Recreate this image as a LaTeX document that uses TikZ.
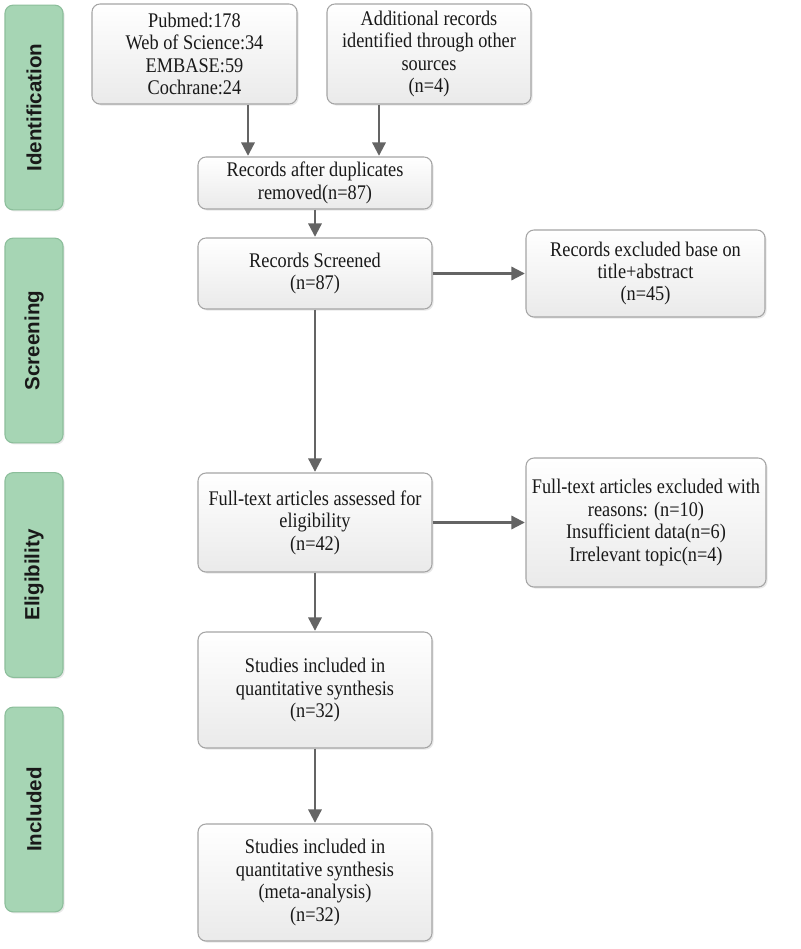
\documentclass[tikz,border=0pt]{standalone}
\usepackage{fontspec}
\setmainfont{Liberation Serif}[FakeStretch=0.88]
\newfontfamily\labelfont{Liberation Sans}
\usetikzlibrary{arrows.meta,shadows,calc}
\definecolor{stagefill}{RGB}{166,213,180}
\definecolor{stageline}{RGB}{140,190,155}
\definecolor{boxline}{RGB}{165,165,165}
\definecolor{boxbottom}{RGB}{234,234,234}
\definecolor{arrowcol}{RGB}{100,100,100}
\definecolor{txt}{RGB}{25,25,25}
\tikzset{
  box/.style={draw=boxline, line width=0.8pt, rounded corners=6pt,
    top color=white, bottom color=boxbottom, align=center, inner sep=2pt,
    font=\fontsize{15.6pt}{16.8pt}\selectfont, text=txt,
    drop shadow={shadow xshift=1.2pt, shadow yshift=-1.2pt, opacity=0.18}},
  stage/.style={draw=stageline, line width=0.8pt, rounded corners=6pt, fill=stagefill,
    minimum width=43.5pt, minimum height=153.5pt,
    drop shadow={shadow xshift=1.2pt, shadow yshift=-1.2pt, opacity=0.18}},
  stagetext/.style={rotate=90, font=\labelfont\bfseries\fontsize{15.4pt}{18pt}\selectfont, text=txt},
  arr/.style={draw=arrowcol, line width=1.6pt, -{Triangle[length=10pt,width=10pt]}, shorten >=0.5pt}
}
\begin{document}
\begin{tikzpicture}[x=0.75pt,y=-0.75pt]
\useasboundingbox[fill=white] (0,0) rectangle (800,949);
% stage bars
\node[stage] (sid) at (34,107.5) {};
\node[stagetext] (tid) at (sid.center) {Identification};
\node[stage] (ssc) at (34,340.5) {};
\node[stagetext] (tsc) at (ssc.center) {Screening};
\node[stage] (sel) at (34,575) {};
\node[stagetext] (tel) at (sel.center) {Eligibility};
\node[stage] (sin) at (34,809.5) {};
\node[stagetext] (tin) at (sin.center) {Included};
% boxes
\node[box, minimum width=153.75pt, minimum height=75pt] (src1) at (194.5,54)
  {Pubmed:178\\Web of Science:34\\EMBASE:59\\Cochrane:24};
\node[box, minimum width=153pt, minimum height=75pt] (src2) at (429,54)
  {Additional records\\identified through other\\sources\\(n=4)};
\node[box, minimum width=175.5pt, minimum height=39pt] (dup) at (315,183)
  {Records after duplicates\\removed(n=87)};
\node[box, minimum width=175.5pt, minimum height=53.25pt] (scr) at (315,273.5)
  {Records Screened\\(n=87)};
\node[box, minimum width=179.25pt, minimum height=65.25pt] (ex1) at (645.5,273.5)
  {Records excluded base on\\title+abstract\\(n=45)};
\node[box, minimum width=175.5pt, minimum height=74.25pt] (full) at (315,522.5)
  {Full-text articles assessed for\\eligibility\\(n=42)};
\node[box, minimum width=180pt, minimum height=96.75pt] (ex2) at (646,522.5)
  {Full-text articles excluded with\\reasons: (n=10)\\Insufficient data(n=6)\\Irrelevant topic(n=4)};
\node[box, minimum width=175.5pt, minimum height=87pt] (stud) at (315,690)
  {Studies included in\\quantitative synthesis\\(n=32)};
\node[box, minimum width=175.5pt, minimum height=87.75pt] (fin) at (315,882.5)
  {Studies included in\\quantitative synthesis\\(meta-analysis)\\(n=32)};
% arrows
\coordinate (a1) at ($(src1.south)+(53.5,0)$);
\coordinate (a2) at ($(src2.south)+(-50,0)$);
\draw[arr] (a1) -- (a1 |- dup.north);
\draw[arr] (a2) -- (a2 |- dup.north);
\draw[arr] (dup.south) -- (scr.north);
\draw[arr] (scr.south) -- (full.north);
\draw[arr] (scr.east) -- (ex1.west);
\draw[arr] (full.east) -- (ex2.west);
\draw[arr] (full.south) -- (stud.north);
\draw[arr] (stud.south) -- (fin.north);
\end{tikzpicture}
\end{document}
